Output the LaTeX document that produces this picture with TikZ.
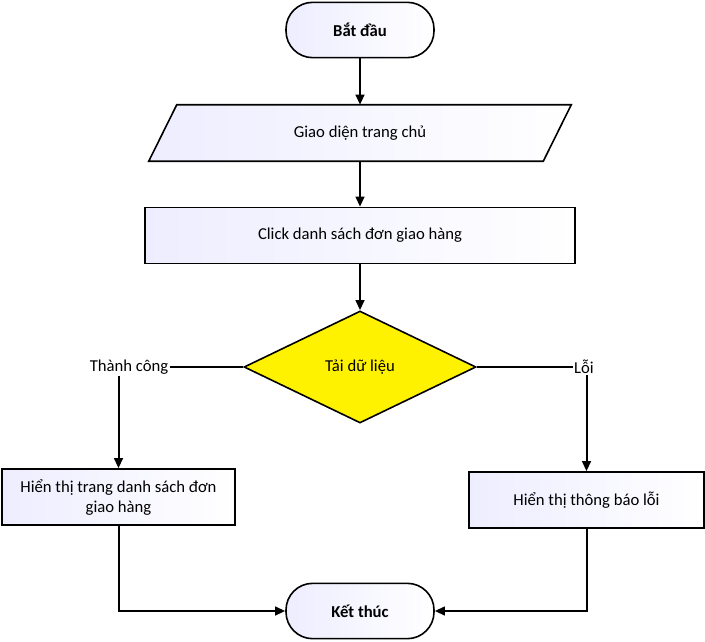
\documentclass[tikz,border=0pt]{standalone}
\usepackage{fontspec}
\setmainfont{Carlito}
\usetikzlibrary{arrows.meta,shapes.geometric}

\tikzset{
  txt/.style={font=\fontsize{12.5}{15}\selectfont},
  flow/.style={draw, line width=1.2pt, left color=blue!7!white, right color=white, align=center, txt},
  term/.style={flow, rounded corners=20pt, minimum width=111pt, minimum height=41.5pt, font=\fontsize{12.5}{15}\selectfont\bfseries},
  proc/.style={flow, minimum height=42pt},
  link/.style={line width=1.5pt, -{Triangle[length=7.5pt,width=6.5pt]}},
  line/.style={line width=1.5pt}
}

\begin{document}
\begin{tikzpicture}[x=0.75pt,y=-0.75pt]
\useasboundingbox (0,0) rectangle (705,641);
\node [term] (start) at (360,30) {Bắt đầu};
\node [minimum width=295.5pt, minimum height=42pt, txt] (home) at (360,133) {};
\filldraw [line width=1.2pt, left color=blue!7!white, right color=white] ([xshift=10.5pt]home.north west) -- ([xshift=10.5pt]home.north east) -- ([xshift=-10.5pt]home.south east) -- ([xshift=-10.5pt]home.south west) -- cycle;
\node [txt] at (home) {Giao diện trang chủ};
\node [proc, minimum width=322.5pt] (click) at (360,235.5) {Click danh sách đơn giao hàng};
\node [diamond, draw, line width=1.2pt, fill=yellow, minimum width=174pt, minimum height=84pt, inner sep=0pt, txt] (load) at (360,367) {Tải dữ liệu};
\node [inner sep=1pt, txt] (ok) at (129,367) {Thành công};
\node [inner sep=1pt, txt] (err) at (584,367) {Lỗi};
\node [proc, minimum width=174.75pt] (list) at (118.5,497) {Hiển thị trang danh sách đơn\\giao hàng};
\node [proc, minimum width=176.25pt] (msg) at (586.5,500) {Hiển thị thông báo lỗi};
\node [term] (stop) at (360,611) {Kết thúc};
\draw [link] (start) -- (home);
\draw [link] (home) -- (click);
\draw [link] (click) -- (load);
\draw [line] (load.west) -- (ok.east);
\draw [line] (load.east) -- (err.west);
\draw [link] (ok.south -| list.north) -- (list.north);
\draw [link] (err.south -| msg.north) -- (msg.north);
\draw [link] (list.south) |- (stop.west);
\draw [link] (msg.south) |- (stop.east);
\end{tikzpicture}
\end{document}
